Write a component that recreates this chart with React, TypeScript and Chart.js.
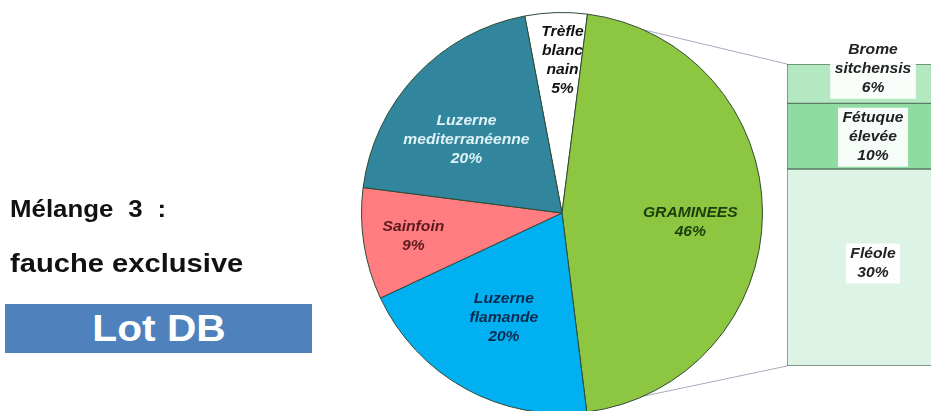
import React, { useEffect, useRef } from "react";
import { Chart, registerables } from "chart.js";

Chart.register(...registerables);

// ---- data ----
const pieCategories = ["Trèfle blanc nain", "GRAMINEES", "Luzerne flamande", "Sainfoin", "Luzerne mediterranéenne"];
const pieValues = [5, 46, 20, 9, 20];
const pieLabelLines = [["Trèfle", "blanc", "nain"], ["GRAMINEES"], ["Luzerne", "flamande"], ["Sainfoin"], ["Luzerne", "mediterranéenne"]];

const barCategories = ["Fléole", "Fétuque élevée", "Brome sitchensis"];
const barValues = [30, 10, 6];
const barLabelLines = [["Fléole"], ["Fétuque", "élevée"], ["Brome", "sitchensis"]];
const barTotal = 46;

// ---- styles ----
const pieColors = ["#FFFFFF", "#8DC641", "#00B0F0", "#FF7C80", "#31859C"];
const pieTextColors = ["#111111", "#1c3d0c", "#0d2b4f", "#5b1a1d", "#dff3f7"];
const pieLabelPlace = [
  { f: 0.76, dx: 5, dy: 0 },
  { f: 0.64, dx: 0, dy: 9 },
  { f: 0.6, dx: 0, dy: 0 },
  { f: 0.75, dx: 0, dy: 0 },
  { f: 0.6, dx: -8, dy: 10 },
];
const barColors = ["#DDF3E6", "#8FDBA2", "#B4E8C0"];
const barLabelDy = [-4, 1, -14.5];
const PIE_BOX = { left: 340, top: 0, width: 444, height: 428 };
const BAR_BOX = { left: 786, top: 30, width: 176, height: 337 };
const FONT = "'Liberation Sans', Arial, sans-serif";
const LH = 19;

function drawLines(ctx: CanvasRenderingContext2D, lines: string[], x: number, y: number, color: string) {
  ctx.save();
  ctx.translate(x, y);
  ctx.scale(1.08, 1);
  ctx.font = `italic bold 14.5px ${FONT}`;
  ctx.fillStyle = color;
  ctx.textAlign = "center";
  ctx.textBaseline = "middle";
  const n = lines.length;
  lines.forEach((l, i) => ctx.fillText(l, 0, (i - (n - 1) / 2) * LH));
  ctx.restore();
}

const pieLabelPlugin = {
  id: "pieLabels",
  afterDatasetsDraw(chart: any) {
    const ctx = chart.ctx as CanvasRenderingContext2D;
    const meta = chart.getDatasetMeta(0);
    meta.data.forEach((arc: any, i: number) => {
      const p = arc.getProps(["x", "y", "startAngle", "endAngle", "outerRadius"], true);
      const mid = (p.startAngle + p.endAngle) / 2;
      const pl = pieLabelPlace[i];
      const r = p.outerRadius * pl.f;
      const x = p.x + Math.cos(mid) * r + pl.dx;
      const y = p.y + Math.sin(mid) * r + pl.dy;
      ctx.save();
      ctx.beginPath();
      ctx.moveTo(p.x, p.y);
      ctx.arc(p.x, p.y, p.outerRadius, p.startAngle, p.endAngle);
      ctx.closePath();
      ctx.clip();
      drawLines(ctx, [...pieLabelLines[i], `${pieValues[i]}%`], x, y, pieTextColors[i]);
      ctx.restore();
    });
  },
};

const barLabelPlugin = {
  id: "barLabels",
  afterDatasetsDraw(chart: any) {
    const ctx = chart.ctx as CanvasRenderingContext2D;
    chart.data.datasets.forEach((ds: any, i: number) => {
      const el = chart.getDatasetMeta(i).data[0];
      const p = el.getProps(["x", "y", "base"], true);
      const lines = [...barLabelLines[i], `${barValues[i]}%`];
      const cy = (p.y + p.base) / 2 + barLabelDy[i];
      ctx.save();
      ctx.font = `italic bold 14.5px ${FONT}`;
      const w = Math.max(...lines.map((l) => ctx.measureText(l).width)) * 1.08 + 9;
      const h = lines.length * LH + 2;
      ctx.fillStyle = "rgba(255,255,255,0.92)";
      ctx.fillRect(p.x - w / 2, cy - h / 2, w, h);
      ctx.restore();
      drawLines(ctx, lines, p.x, cy, "#222222");
    });
  },
};

export default function App() {
  const pieRef = useRef<HTMLCanvasElement>(null);
  const barRef = useRef<HTMLCanvasElement>(null);
  const overRef = useRef<HTMLCanvasElement>(null);

  useEffect(() => {
    const pie = new Chart(pieRef.current!, {
      type: "pie",
      data: {
        labels: pieCategories,
        datasets: [
          {
            data: pieValues,
            backgroundColor: pieColors,
            borderColor: "#2f4a33",
            borderWidth: 1,
          },
        ],
      },
      options: {
        responsive: false,
        animation: false,
        rotation: -10.7,
        layout: { padding: { left: 21, right: 21, top: 12, bottom: 14 } },
        plugins: { legend: { display: false }, tooltip: { enabled: false } },
      },
      plugins: [pieLabelPlugin],
    });

    const bar = new Chart(barRef.current!, {
      type: "bar",
      data: {
        labels: ["Graminées"],
        datasets: barCategories.map((c, i) => ({
          label: c,
          data: [barValues[i]],
          backgroundColor: barColors[i],
          borderColor: "#5b7a66",
          borderWidth: 1,
          borderSkipped: false,
          barPercentage: 1,
          categoryPercentage: 1,
        })),
      },
      options: {
        responsive: false,
        animation: false,
        layout: { padding: { left: 1, right: 3, top: 34, bottom: 1 } },
        scales: {
          x: { display: false, stacked: true },
          y: { display: false, stacked: true, min: 0, max: barTotal },
        },
        plugins: { legend: { display: false }, tooltip: { enabled: false } },
      },
      plugins: [barLabelPlugin],
    });

    // connector lines between pie and bar
    const oc = overRef.current!;
    const octx = oc.getContext("2d")!;
    octx.clearRect(0, 0, oc.width, oc.height);
    const arc: any = pie.getDatasetMeta(0).data[1];
    const ap = arc.getProps(["x", "y", "outerRadius"], true);
    const px = PIE_BOX.left + ap.x;
    const py = PIE_BOX.top + ap.y;
    const R = ap.outerRadius;
    const topAng = (24 * Math.PI) / 180;
    const botAng = (156 * Math.PI) / 180;
    const topEl: any = bar.getDatasetMeta(barValues.length - 1).data[0];
    const botEl: any = bar.getDatasetMeta(0).data[0];
    const bx = BAR_BOX.left + bar.chartArea.left;
    const byTop = BAR_BOX.top + topEl.y;
    const byBot = BAR_BOX.top + botEl.base;
    octx.strokeStyle = "#a9a9bd";
    octx.lineWidth = 1;
    octx.beginPath();
    octx.moveTo(px + Math.sin(topAng) * R, py - Math.cos(topAng) * R);
    octx.lineTo(bx, byTop);
    octx.moveTo(px + Math.sin(botAng) * R, py - Math.cos(botAng) * R);
    octx.lineTo(bx, byBot);
    octx.stroke();

    return () => {
      pie.destroy();
      bar.destroy();
    };
  }, []);

  const abs = (b: { left: number; top: number; width: number; height: number }): React.CSSProperties => ({
    position: "absolute",
    left: b.left,
    top: b.top,
    width: b.width,
    height: b.height,
  });

  return (
    <div
      style={{
        position: "fixed",
        left: 0,
        top: 0,
        width: 931,
        height: 411,
        overflow: "hidden",
        background: "#ffffff",
        fontFamily: FONT,
      }}
    >
      <canvas ref={overRef} width={931} height={411} style={abs({ left: 0, top: 0, width: 931, height: 411 })} />
      <canvas ref={pieRef} width={PIE_BOX.width} height={PIE_BOX.height} style={abs(PIE_BOX)} />
      <canvas ref={barRef} width={BAR_BOX.width} height={BAR_BOX.height} style={abs(BAR_BOX)} />
      <div
        style={{
          position: "absolute",
          left: 10,
          top: 198,
          fontSize: 23.5,
          lineHeight: "23.5px",
          fontWeight: "bold",
          color: "#111",
          whiteSpace: "nowrap",
          wordSpacing: 7,
          transform: "scaleX(1.1)",
          transformOrigin: "left center",
        }}
      >
        Mélange 3 :
      </div>
      <div
        style={{
          position: "absolute",
          left: 10,
          top: 249.5,
          fontSize: 26.5,
          lineHeight: "26.5px",
          fontWeight: "bold",
          color: "#111",
          whiteSpace: "nowrap",
          transform: "scaleX(1.1)",
          transformOrigin: "left center",
        }}
      >
        fauche exclusive
      </div>
      <div
        style={{
          position: "absolute",
          left: 5,
          top: 304,
          width: 307,
          height: 49,
          background: "#4F81BD",
          color: "#ffffff",
          textAlign: "center",
          fontSize: 36,
          lineHeight: "49px",
          fontWeight: "bold",
          whiteSpace: "nowrap",
        }}
      >
        <span style={{ display: "inline-block", transform: "scaleX(1.13)" }}>Lot DB</span>
      </div>
    </div>
  );
}
